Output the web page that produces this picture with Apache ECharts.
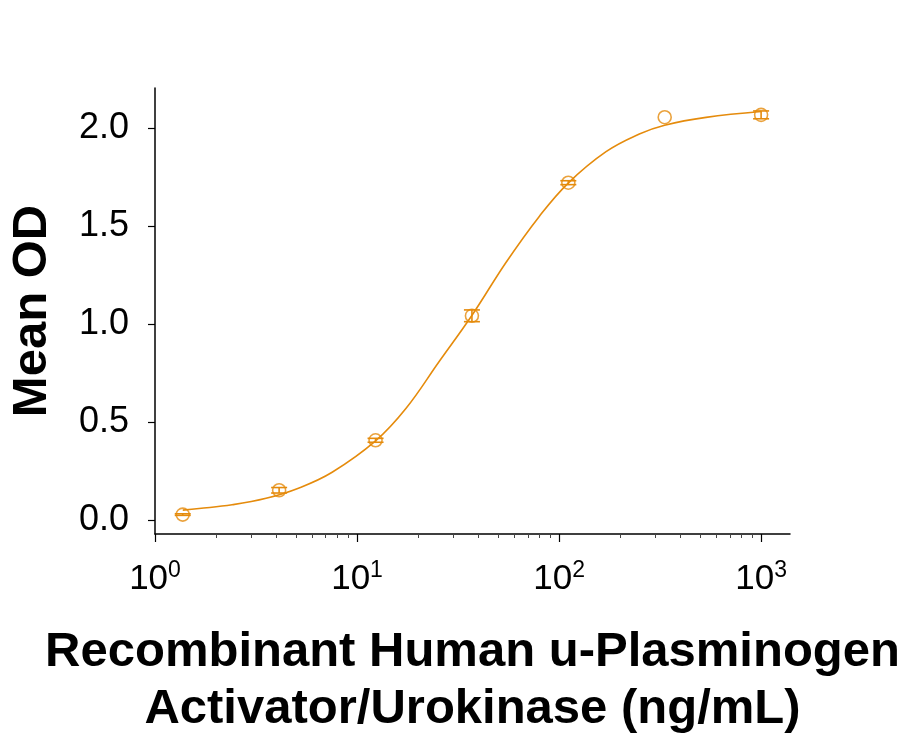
<!DOCTYPE html>
<html>
<head>
<meta charset="utf-8">
<script src="https://cdn.jsdelivr.net/npm/echarts@6/dist/echarts.min.js"></script>
<style>
html,body{margin:0;padding:0;background:#fff;}
#chart{width:918px;height:738px;}
</style>
</head>
<body>
<div id="chart"></div>
<script>
// measured points (ng/mL, mean OD) + error half-widths
const conc = [1.372, 4.115, 12.35, 37.04, 111.1, 333.3, 1000];
const meanOD = [0.029, 0.153, 0.408, 1.043, 1.722, 2.056, 2.068];
const odErr = [0.004, 0.014, 0.01, 0.03, 0.01, 0, 0.02];

// fitted curve
const fitX = [1.372, 1.652, 2.406, 3.546, 5.167, 7.53, 12.35, 17.45, 25.5, 37.3, 54.6, 79.8, 111, 170.8, 249.6, 333, 534, 1000];
const fitY = [0.052, 0.060, 0.079, 0.112, 0.165, 0.245, 0.405, 0.57, 0.81, 1.05, 1.315, 1.55, 1.72, 1.88, 1.97, 2.015, 2.055, 2.085];

const xMajor = [1, 10, 100, 1000];
const xMinor = [2,3,4,5,6,7,8,9,20,30,40,50,60,70,80,90,200,300,400,500,600,700,800,900];
const yTicks = [0, 0.5, 1, 1.5, 2];

const orange = '#E58B0C';
const font = 'Liberation Sans, Arial, sans-serif';

const chart = echarts.init(document.getElementById('chart'));

const option = {
    animation: false,
    backgroundColor: '#fff',
    grid: {left: 155, right: 128, top: 88, bottom: 204, outerBoundsMode: 'none', containLabel: false},
    xAxis: [{
        type: 'log',
        logBase: 10,
        min: 1,
        max: 1390,
        position: 'bottom',
        name: 'Recombinant Human u-Plasminogen\nActivator/Urokinase (ng/mL)',
        nameLocation: 'middle',
        nameGap: 90,
        nameTextStyle: {fontFamily: font, fontSize: 49, fontWeight: 'bold', color: '#000', lineHeight: 57},
        axisLine: {onZero: false, lineStyle: {color: '#000', width: 1.5}},
        axisTick: {customValues: xMajor, length: 8, lineStyle: {color: '#000', width: 1.2}},
        axisLabel: {
            customValues: xMajor,
            margin: 25,
            formatter: function (v) {
                return '{b|10}{s|' + Math.round(Math.log10(v)) + '}';
            },
            rich: {
                b: {fontFamily: font, fontSize: 35, color: '#000', lineHeight: 40},
                s: {fontFamily: font, fontSize: 23, color: '#000', verticalAlign: 'top', lineHeight: 23}
            }
        },
        splitLine: {show: false}
    }, {
        // minor ticks only
        type: 'log',
        logBase: 10,
        min: 1,
        max: 1390,
        position: 'bottom',
        axisLine: {show: false, onZero: false},
        axisTick: {customValues: xMinor, length: 4, lineStyle: {color: '#444', width: 1}},
        axisLabel: {show: false},
        splitLine: {show: false}
    }],
    yAxis: {
        type: 'value',
        min: -0.07,
        max: 2.205,
        name: 'Mean OD',
        nameLocation: 'middle',
        nameGap: 98,
        nameTextStyle: {fontFamily: font, fontSize: 49, fontWeight: 'bold', color: '#000'},
        axisLine: {show: true, onZero: false, lineStyle: {color: '#000', width: 1.5}},
        axisTick: {show: true, customValues: yTicks, length: 7, lineStyle: {color: '#000', width: 1.2}},
        axisLabel: {
            customValues: yTicks,
            margin: 26,
            fontFamily: font,
            fontSize: 36,
            color: '#000',
            formatter: function (v) { return v.toFixed(1); }
        },
        splitLine: {show: false}
    },
    series: [{
        type: 'line',
        data: fitX.map((x, i) => [x, fitY[i]]),
        smooth: 0.4,
        showSymbol: false,
        lineStyle: {color: orange, width: 1.6},
        z: 2
    }, {
        type: 'scatter',
        data: conc.map((x, i) => [x, meanOD[i]]),
        symbol: 'circle',
        symbolSize: 13,
        itemStyle: {color: 'rgba(0,0,0,0)', borderColor: orange, borderWidth: 1.6},
        z: 3
    }, {
        type: 'custom',
        data: conc.map((x, i) => [x, meanOD[i] - odErr[i], meanOD[i] + odErr[i]]),
        renderItem: function (params, api) {
            const lo = api.coord([api.value(0), api.value(1)]);
            const hi = api.coord([api.value(0), api.value(2)]);
            if (Math.abs(lo[1] - hi[1]) < 0.5) return null;
            const w = 8;
            const st = {stroke: orange, lineWidth: 1.6};
            return {
                type: 'group',
                children: [
                    {type: 'line', shape: {x1: lo[0], y1: lo[1], x2: hi[0], y2: hi[1]}, style: st},
                    {type: 'line', shape: {x1: lo[0] - w, y1: lo[1], x2: lo[0] + w, y2: lo[1]}, style: st},
                    {type: 'line', shape: {x1: hi[0] - w, y1: hi[1], x2: hi[0] + w, y2: hi[1]}, style: st}
                ]
            };
        },
        z: 4
    }]
};

chart.setOption(option);
</script>
</body>
</html>
